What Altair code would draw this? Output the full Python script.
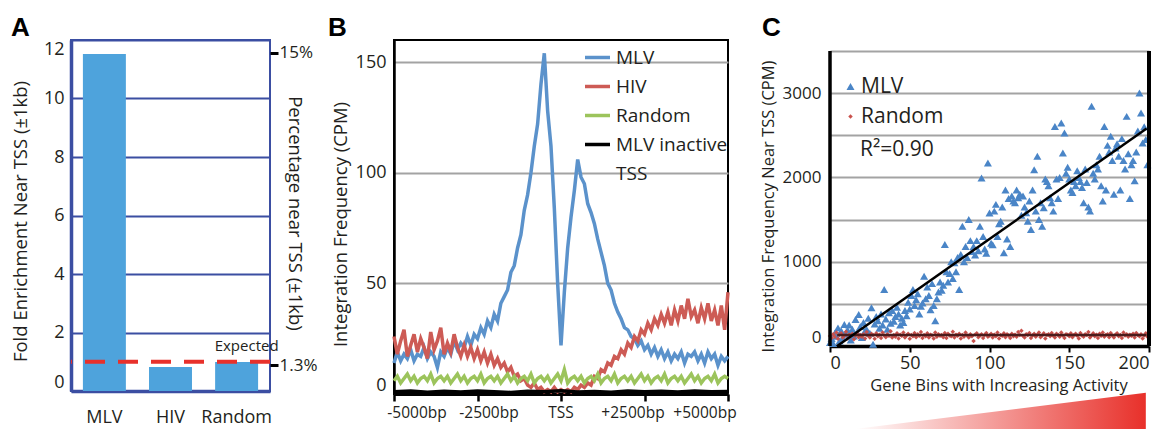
import altair as alt
import pandas as pd

FONT = "Open Sans"
TXT = "#231f20"
NAVY = "#3b4ea2"
GRID = "#a3a3a3"

# ---------------- Panel A data ----------------
a_groups = ["MLV", "HIV", "Random"]
a_fold = [11.52, 0.82, 0.99]
a_fold_ticks = [0, 2, 4, 6, 8, 10, 12]
a_expected = [1.0]
a_expected_text = ["Expected"]
a_expected_y = [1.55]
a_pct_ticks = [1.3, 15]
a_pct_domain = [0.16, 15.57]

# ---------------- Panel B data ----------------
b_bp = list(range(-5000, 5001, 100))
b_mlv = [14, 19, 15, 18, 16, 20, 15, 18, 17, 21,
         16, 19, 17, 12, 19, 17, 21, 18, 24, 20,
         23, 21, 26, 22, 27, 25, 30, 27, 33, 30,
         36, 33, 41, 44, 47, 55, 58, 66, 72, 83,
         90, 100, 112, 122, 140, 154, 128, 112, 84, 50,
         22, 46, 66, 80, 92, 106, 98, 95, 86, 82,
         77, 70, 64, 58, 50, 47, 41, 37, 34, 30,
         29, 26, 25, 22, 24, 20, 22, 18, 21, 17,
         20, 16, 19, 15, 18, 16, 19, 14, 18, 17,
         19, 15, 18, 14, 19, 16, 18, 13, 17, 15,
         17]
b_hiv = [26, 18, 24, 29, 17, 22, 27, 19, 25, 21,
         16, 28, 20, 24, 30, 18, 23, 19, 27, 21,
         17, 22, 17, 21, 16, 20, 15, 19, 14, 18,
         13, 16, 12, 14, 10, 12, 8, 9, 6, 7,
         4, 3, 5, 2, 3, 1, 2, 1, 3, 1,
         2, 1, 2, 1, 3, 2, 4, 3, 5, 4,
         8, 7, 11, 10, 14, 13, 17, 16, 20, 18,
         23, 21, 26, 24, 29, 27, 32, 29, 34, 31,
         36, 32, 37, 31, 38, 33, 40, 34, 43, 35,
         38, 32, 39, 34, 41, 33, 38, 31, 40, 29,
         46]
b_rand = [6, 8, 5, 7, 9, 6, 8, 5, 7, 8,
          6, 9, 5, 7, 8, 6, 8, 5, 7, 9,
          6, 8, 5, 7, 8, 6, 9, 5, 7, 8,
          6, 8, 5, 7, 9, 6, 8, 5, 7, 8,
          6, 9, 5, 7, 8, 6, 8, 5, 7, 9,
          6, 11, 5, 7, 8, 6, 8, 5, 7, 8,
          6, 9, 5, 7, 8, 6, 9, 5, 7, 8,
          6, 8, 5, 7, 9, 6, 8, 5, 7, 8,
          6, 9, 5, 7, 8, 6, 8, 5, 7, 9,
          6, 8, 5, 7, 8, 6, 9, 5, 7, 8,
          7]
b_inactive_bp = list(range(-5000, 5001, 500))
b_inactive = [1, 1.4, 0.8, 1.2, 0.9, 1.3, 1, 0.7, 1.2, 1, 1.5,
              0.9, 1.1, 0.8, 1.3, 1, 1.2, 0.9, 1.4, 1, 1.1]
b_series = ["MLV", "HIV", "Random", "MLV inactive TSS"]
b_legend_domain = b_series + ["TSS"]
b_colors = ["#5b92cb", "#cd5b55", "#9cc45c", "#000000", "rgba(0,0,0,0)"]
b_widths = [3.5, 3.5, 4, 5, 0.1]
b_ticks = [-5000, -2500, 0, 2500, 5000]
b_label_pos = [-4311, -2156, 0, 2156, 4311]
b_labels = ["-5000bp", "-2500bp", "TSS", "+2500bp", "+5000bp"]

# ---------------- Panel C data ----------------
c_bins = list(range(200))
c_mlv = [40, 90, 30, 150, 117, 215, 60, 180, 100, 255,
         140, 190, 250, 70, 200, 120, 314, 160, 374, 230,
         100, 280, 180, 196, 330, 150, 453, 20, 260, 350,
         300, 210, 380, 250, 670, 320, 200, 393, 270, 420,
         294, 350, 460, 380, 250, 330, 280, 420, 360, 520,
         440, 600, 670, 480, 550, 620, 380, 470, 510, 828,
         560, 700, 600, 430, 740, 480, 300, 560, 640, 760,
         660, 720, 1204, 880, 760, 860, 1000, 800, 986, 880,
         1050, 670, 1086, 1421, 1000, 1180, 1050, 1500, 1250, 1120,
         1180, 1080, 1250, 1130, 1421, 1994, 1300, 1150, 1100, 2172,
         1579, 1220, 1200, 1600, 1680, 1300, 1450, 1480, 1650, 1105,
         1850, 1270, 1750, 1180, 1780, 1720, 1700, 1850, 1760, 1800,
         1550, 1780, 1650, 1580, 1480, 1720, 1382, 1850, 2092, 1600,
         2250, 1500, 1700, 1420, 1640, 1980, 1950, 1900, 1760, 1700,
         1600, 2605, 1980, 1750, 2000, 2645, 2290, 2527, 2050, 2120,
         1980, 1850, 1820, 1950, 1900, 2080, 2000, 1950, 1880, 1700,
         2100, 1940, 1650, 1600, 2843, 2050, 1980, 2150, 2100, 2250,
         1900, 1720, 2605, 1850, 2380, 2300, 2487, 2200, 1800, 2350,
         2400, 2250, 1850, 2460, 2200, 2100, 2724, 2280, 1750, 2150,
         2200, 1960, 2300, 2550, 3002, 2764, 2408, 2600, 2450, 2150]
c_random = [120, 95, 140, 110, 160, 85, 130, 150, 100, 125, 170, 90, 135, 115, 145, 80, 125, 155, 105, 130,
            110, 140, 90, 165, 120, 100, 145, 130, 85, 150, 115, 135, 95, 160, 125, 105, 140, 120, 175, 100,
            130, 110, 150, 90, 135, 120, 160, 100, 125, 145, 85, 130, 115, 155, 105, 140, 120, 165, 95, 130,
            115, 150, 100, 135, 125, 90, 160, 110, 140, 120, 130, 105, 155, 95, 145, 125, 115, 170, 100, 135,
            120, 145, 90, 130, 110, 160, 125, 100, 140, 115, 60, 135, 150, 105, 125, 140, 95, 130, 155, 110,
            125, 145, 100, 135, 115, 160, 90, 130, 120, 150, 105, 140, 125, 95, 145, 115, 135, 110, 165, 130,
            180, 120, 100, 140, 130, 155, 95, 125, 145, 110, 135, 160, 105, 125, 150, 90, 130, 140, 115, 155,
            120, 100, 145, 130, 110, 160, 125, 95, 140, 135, 115, 150, 105, 130, 145, 120, 90, 155, 125, 110,
            140, 130, 165, 100, 125, 150, 115, 135, 95, 145, 120, 160, 110, 130, 140, 105, 155, 125, 100, 135,
            150, 115, 130, 95, 160, 125, 140, 110, 135, 120, 145, 100, 155, 130, 115, 140, 90, 125, 150, 110]
c_series = ["MLV", "Random"]
c_colors = ["#4a85c7", "#c9514c"]
c_shapes = ["triangle-up", "diamond"]
c_sizes = [65, 20]
c_fit_x = [4.5, 198.5]
c_fit_mlv = [0, 2580]
c_fit_random = [130, 130]
c_r2_text = ["R²=0.90"]
c_r2_pos = [18.8, 2330]
c_ramp_x = [15.5, 198]
c_ramp_top = [-985, -556]
c_ramp_base = [-985, -985]
c_frame_top = 3500
c_view_top = 3630

TITLE = dict(anchor="start", frame="bounds", fontSize=26, font="Liberation Sans",
             fontWeight="bold", color="black", offset=2, dy=3)

# ================= Panel A =================
dfA = pd.DataFrame({"group": a_groups, "fold": a_fold})
xA = alt.X("group:N", sort=a_groups,
           scale=alt.Scale(domain=a_groups, paddingInner=0.35, paddingOuter=0.18),
           axis=alt.Axis(title=None, labelAngle=0, ticks=False, domainColor=NAVY, domainWidth=3.5,
                         labelFontSize=18, labelPadding=17))
yA = alt.Y("fold:Q", scale=alt.Scale(domain=[0, 12], nice=False),
           axis=alt.Axis(values=a_fold_ticks, title="Fold Enrichment Near TSS (±1kb)", grid=True,
                         gridColor=NAVY, gridWidth=2, ticks=False, domainColor=NAVY, domainWidth=3.5,
                         labelFontSize=18, labelPadding=7, labelFlush=True,
                         titleFontSize=18.5, titleX=-41, titleY=181))
barsA = alt.Chart(dfA).mark_bar(color="#4ea3dc").encode(x=xA, y=yA)
ruleA = alt.Chart(pd.DataFrame({"fold": a_expected})).mark_rule(
    color="#e8312b", strokeWidth=4, strokeDash=[20, 13]).encode(y=alt.Y("fold:Q"))
textA = alt.Chart(pd.DataFrame({"group": ["Random"], "fold": a_expected_y, "label": a_expected_text})).mark_text(
    fontSize=15, dx=10, font=FONT, color=TXT).encode(
    x=alt.X("group:N", sort=a_groups), y=alt.Y("fold:Q"), text="label:N")
rightA = alt.Chart(pd.DataFrame({"pct": a_pct_ticks})).mark_point(opacity=0).encode(
    y=alt.Y("pct:Q", scale=alt.Scale(domain=a_pct_domain, nice=False, zero=False),
            axis=alt.Axis(orient="right", values=a_pct_ticks, labelExpr="datum.value + '%'",
                          title="Percentage near TSS (±1kb)", domain=False, grid=False, ticks=True,
                          tickColor="black", tickWidth=3, tickSize=8, labelFontSize=17, labelPadding=1,
                          titleFontSize=18.5, titleX=14, titleY=173)))
chartA = alt.layer(alt.layer(barsA, ruleA, textA), rightA).resolve_scale(y="independent").properties(
    width=199, height=351,
    title=alt.TitleParams("A", **TITLE),
    view=alt.ViewBackground(stroke=NAVY, strokeWidth=2))

# ================= Panel B =================
rows = []
for name, xs, ys in [("MLV", b_bp, b_mlv), ("HIV", b_bp, b_hiv), ("Random", b_bp, b_rand),
                     ("MLV inactive TSS", b_inactive_bp, b_inactive)]:
    rows += [{"trace": name, "bp": x, "cpm": y} for x, y in zip(xs, ys)]
dfB = pd.DataFrame(rows)

xB = alt.X("bp:Q", scale=alt.Scale(domain=[-5000, 5000], nice=False),
           axis=alt.Axis(values=b_ticks, labels=False, ticks=True, tickSize=7, tickWidth=2.5,
                         tickColor="black", domainColor="black", domainWidth=3, grid=False, title=None))
yB = alt.Y("cpm:Q", scale=alt.Scale(domain=[0, 160], nice=False),
           axis=alt.Axis(values=[0, 50, 100, 150], grid=True, gridColor=GRID, gridWidth=2, ticks=False,
                         domainColor="black", domainWidth=2.5, labelFontSize=18, labelPadding=8,
                         labelFlush=True, title="Integration Frequency (CPM)", titleFontSize=18.5,
                         titleX=-44, titleY=184))
colB = alt.Color("trace:N", scale=alt.Scale(domain=b_legend_domain, range=b_colors),
                 legend=alt.Legend(orient="none", legendX=189, legendY=3, title=None, symbolType="stroke",
                                   symbolSize=625, labelFontSize=19, labelFont=FONT, labelColor=TXT,
                                   rowPadding=4, labelLimit=300,
                                   labelExpr="datum.label == 'MLV inactive TSS' ? 'MLV inactive' : datum.label"))
swB = alt.StrokeWidth("trace:N", scale=alt.Scale(domain=b_legend_domain, range=b_widths))


def b_line(name):
    return alt.Chart(dfB).transform_filter(alt.datum.trace == name).mark_line().encode(
        x=xB, y=yB, color=colB, strokeWidth=swB)


labB = alt.Chart(pd.DataFrame({"bp": b_label_pos, "label": b_labels})).mark_text(
    fontSize=15.5, baseline="middle", font=FONT, color=TXT).encode(
    x=xB, y=alt.value(373), text="label:N")

chartB = alt.layer(*[b_line(n) for n in b_series], labB).properties(
    width=334, height=354,
    title=alt.TitleParams("B", dx=-3, **TITLE),
    view=alt.ViewBackground(stroke="black", strokeWidth=2))

# ================= Panel C =================
dfC = pd.DataFrame({"bin": c_bins * 2, "v": c_mlv + c_random,
                    "group": ["MLV"] * len(c_bins) + ["Random"] * len(c_bins)})
xC = alt.X("bin:Q", scale=alt.Scale(domain=[0, 200], nice=False),
           axis=alt.Axis(values=[0, 50, 100, 150, 200], ticks=True, tickColor="black", tickSize=6,
                         tickWidth=2, domainColor="black", domainWidth=3.5, labelFontSize=18, labelPadding=2,
                         grid=False, title="Gene Bins with Increasing Activity", titleFontSize=16.5,
                         titlePadding=5, titleX=168.5))
yC = alt.Y("v:Q", scale=alt.Scale(domain=[0, c_view_top], nice=False),
           axis=alt.Axis(values=[0, 500, 1000, 1500, 2000, 2500, 3000, 3500], format="d",
                         labelExpr="datum.value % 1000 == 0 && datum.value < 3500 ? datum.label : ''",
                         grid=True, gridColor=GRID, gridWidth=2, ticks=False, domain=False,
                         labelFontSize=17, labelPadding=9, labelFlush=True,
                         title="Integration Frequency Near TSS (CPM)", titleFontSize=16.5,
                         titleX=-54, titleY=166))
colC = alt.Color("group:N", scale=alt.Scale(domain=c_series, range=c_colors),
                 legend=alt.Legend(orient="none", legendX=10, legendY=36, title=None, labelFontSize=21,
                                   labelFont=FONT, labelColor=TXT, rowPadding=8, labelOffset=0))
shpC = alt.Shape("group:N", scale=alt.Scale(domain=c_series, range=c_shapes))
sizC = alt.Size("group:N", scale=alt.Scale(domain=c_series, range=c_sizes))


def c_points(name):
    return alt.Chart(dfC).transform_filter(alt.datum.group == name).mark_point(
        filled=True, opacity=1).encode(x=xC, y=yC, color=colC, shape=shpC, size=sizC)


fitC = pd.DataFrame({"bin": c_fit_x * 2, "v": c_fit_mlv + c_fit_random,
                     "fit": ["MLV", "MLV", "Random", "Random"]})
fitRandom = alt.Chart(fitC).transform_filter(alt.datum.fit == "Random").mark_line(
    color="#4a1c1c", strokeWidth=2.5).encode(x=xC, y=yC)
fitMLV = alt.Chart(fitC).transform_filter(alt.datum.fit == "MLV").mark_line(
    color="black", strokeWidth=2.5).encode(x=xC, y=yC)
r2C = alt.Chart(pd.DataFrame({"bin": [c_r2_pos[0]], "v": [c_r2_pos[1]], "t": c_r2_text})).mark_text(
    align="left", baseline="middle", fontSize=21, font=FONT, color=TXT).encode(x=xC, y=yC, text="t:N")
dfFrame = pd.DataFrame({"bin": [0, 200], "v": [0, 0], "v2": [c_frame_top, c_frame_top]})
leftC = alt.Chart(dfFrame).transform_filter(alt.datum.bin == 0).mark_rule(
    color="black", strokeWidth=3.5).encode(x=xC, y=yC, y2="v2:Q")
borderC = alt.Chart(dfFrame).transform_filter(alt.datum.bin == 200).mark_rule(
    color="black", strokeWidth=4).encode(x=xC, y=yC, y2="v2:Q")
rampC = alt.Chart(pd.DataFrame({"bin": c_ramp_x, "v": c_ramp_top, "v2": c_ramp_base})).mark_area(
    color=alt.Gradient(gradient="linear",
                       stops=[alt.GradientStop(color="#ffffff", offset=0),
                              alt.GradientStop(color="#e8302a", offset=1)],
                       x1=0, x2=1, y1=0, y2=0)).encode(x=xC, y=yC, y2="v2:Q")

chartC = alt.layer(c_points("MLV"), c_points("Random"), fitRandom, fitMLV, r2C, leftC, borderC,
                   rampC).properties(
    width=319, height=306,
    title=alt.TitleParams("C", dx=2, **TITLE))

indep = dict(color="independent", shape="independent", size="independent", strokeWidth="independent")
inner = alt.hconcat(chartA, chartB, spacing=9).resolve_scale(**indep).resolve_legend(**indep)
chart = alt.hconcat(inner, chartC, spacing=22).resolve_scale(**indep).resolve_legend(**indep).properties(
    padding={"left": 2, "top": 6, "right": 2, "bottom": 0}
).configure_view(stroke=None).configure_axis(
    labelFont=FONT, titleFont=FONT, labelColor=TXT, titleColor=TXT, titleFontWeight="normal"
).configure_legend(labelFont=FONT)

chart.save("out.html", embed_options={"renderer": "svg", "actions": False})
